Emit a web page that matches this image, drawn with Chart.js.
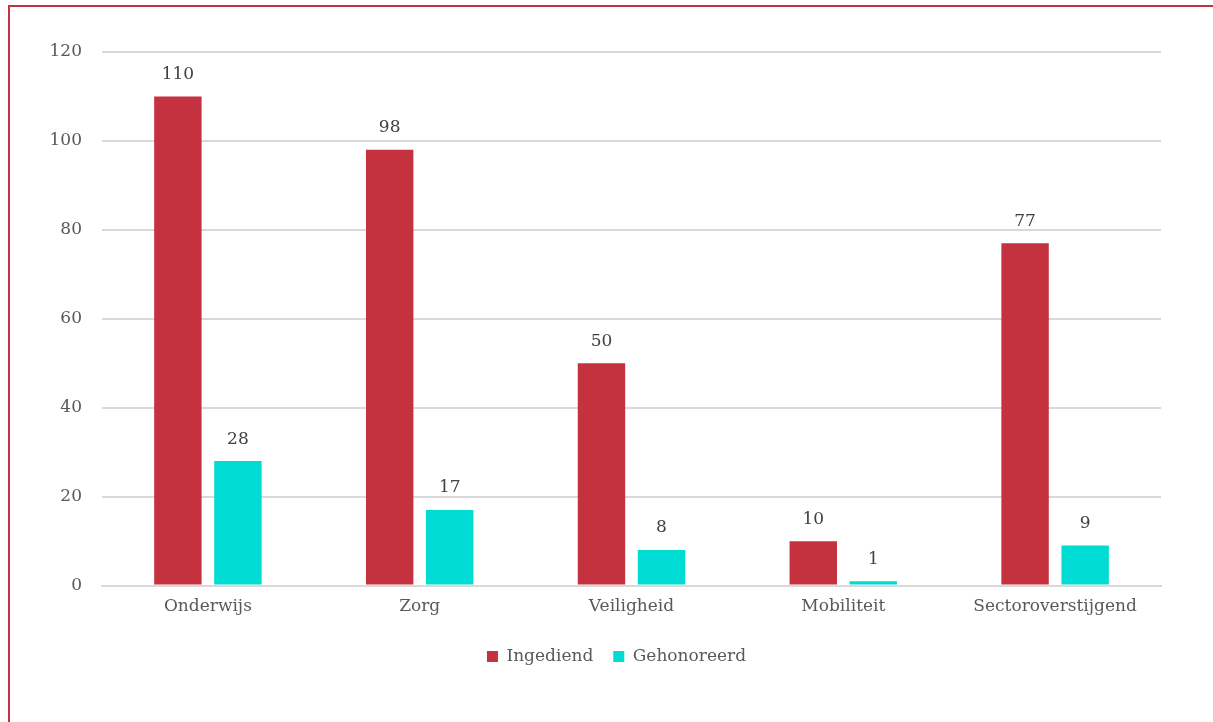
<!DOCTYPE html>
<html>
<head>
<meta charset="utf-8">
<script src="https://cdn.jsdelivr.net/npm/chart.js@4.4.0/dist/chart.umd.min.js"></script>
<style>
    html, body { margin: 0; padding: 0; background: #ffffff; }
    #frame {
        position: absolute;
        left: 8px;
        top: 5px;
        width: 1220px;
        height: 730px;
        border-left: 2px solid #c4323f;
        border-top: 2px solid #c4323f;
    }
    #wrap { position: absolute; left: 0; top: 0; width: 1213px; height: 722px; }
</style>
</head>
<body>
<div id="frame"></div>
<div id="wrap"><canvas id="myChart"></canvas></div>
<script>
var categories = ['Onderwijs', 'Zorg', 'Veiligheid', 'Mobiliteit', 'Sectoroverstijgend'];
var ingediend = [110, 98, 50, 10, 77];
var gehonoreerd = [28, 17, 8, 1, 9];
var yTicks = [0, 20, 40, 60, 80, 100, 120];

var fontFamily = "'DejaVu Serif', Georgia, serif";

// Draw the value above each bar
var valueLabels = {
    id: 'valueLabels',
    afterDatasetsDraw: function (chart) {
        var ctx = chart.ctx;
        ctx.save();
        ctx.font = '17px ' + fontFamily;
        ctx.fillStyle = '#404040';
        ctx.textAlign = 'center';
        ctx.textBaseline = 'middle';
        chart.data.datasets.forEach(function (dataset, i) {
            var meta = chart.getDatasetMeta(i);
            meta.data.forEach(function (bar, j) {
                ctx.fillText(dataset.data[j], bar.x, bar.y - 22);
            });
        });
        ctx.restore();
    }
};

// Nudge the legend a bit to the right, like in the original
var legendShift = {
    id: 'legendShift',
    afterLayout: function (chart) {
        chart.legend.left += 31;
        chart.legend.right += 31;
    }
};

var chart = new Chart(document.getElementById('myChart'), {
    type: 'bar',
    data: {
        labels: categories,
        datasets: [{
            label: 'Ingediend',
            data: ingediend,
            backgroundColor: '#c4323f'
        }, {
            label: 'Gehonoreerd',
            data: gehonoreerd,
            backgroundColor: '#00dcd4'
        }]
    },
    options: {
        responsive: true,
        maintainAspectRatio: false,
        animation: false,
        categoryPercentage: 0.567,
        barPercentage: 0.79,
        layout: {
            padding: { left: 10, top: 52, right: 52, bottom: 47 }
        },
        plugins: {
            tooltip: { enabled: false },
            legend: {
                position: 'bottom',
                labels: {
                    boxWidth: 11,
                    boxHeight: 11,
                    padding: 20,
                    color: '#595959',
                    font: { family: fontFamily, size: 17 }
                }
            }
        },
        scales: {
            x: {
                grid: { display: false, drawTicks: false },
                border: { color: '#d9d9d9', width: 2 },
                ticks: {
                    padding: 11,
                    color: '#595959',
                    font: { family: fontFamily, size: 17 }
                }
            },
            y: {
                min: 0,
                max: 120,
                afterFit: function (axis) {
                    axis.width = 92;
                },
                afterBuildTicks: function (axis) {
                    axis.ticks = yTicks.map(function (v) { return { value: v }; });
                },
                grid: { color: '#d9d9d9', lineWidth: 2, drawTicks: false },
                border: { display: false },
                ticks: {
                    padding: 20,
                    color: '#595959',
                    font: { family: fontFamily, size: 17 }
                }
            }
        }
    },
    plugins: [valueLabels, legendShift]
});
</script>
</body>
</html>
